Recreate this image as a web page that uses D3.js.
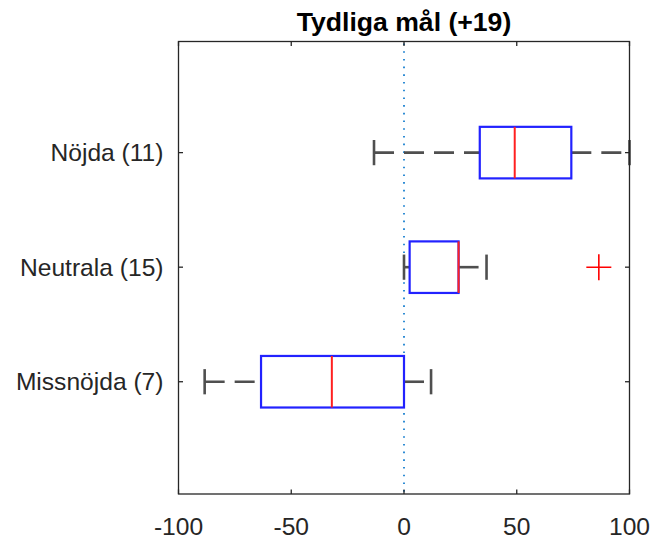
<!DOCTYPE html>
<html><head><meta charset="utf-8">
<script src="https://cdn.jsdelivr.net/npm/d3@7"></script>
<style>body{margin:0;background:#fff}svg{display:block}</style>
</head><body>
<svg id="chart" width="656" height="540"></svg>
<script>
const title = "Tydliga mål (+19)";
const categories = ["Missnöjda (7)", "Neutrala (15)", "Nöjda (11)"];
const positions = [1, 2, 3];
const lowerWhisker = [-88.4, 0, -13.3];
const q1 = [-63.4, 2.5, 33.6];
const median = [-32, 24.2, 49.1];
const q3 = [0, 24.2, 74.2];
const upperWhisker = [12, 36.6, 100];
const outliers = [[], [86.4], []];
const xTicks = [-100, -50, 0, 50, 100];

const svg = d3.select("#chart");
const L = 178.5, R = 629.5, T = 41.5, B = 494;
const x = d3.scaleLinear().domain([-100, 100]).range([L, R]);
const y = d3.scaleLinear().domain([0.02, 3.97]).range([B, T]);
const boxHalf = 0.225, capHalf = 0.11;
const font = "'Liberation Sans', Arial, Helvetica, sans-serif";
const axisColor = "#262626";

// zero reference line
svg.append("line")
  .attr("x1", x(0)).attr("x2", x(0)).attr("y1", T + 2).attr("y2", B)
  .attr("stroke", "#1a80d0").attr("stroke-width", 1.8)
  .attr("stroke-dasharray", "1.6,6.1").attr("stroke-linecap", "butt");

const data = categories.map((c, i) => ({
  c, p: positions[i], lw: lowerWhisker[i], q1: q1[i], med: median[i],
  q3: q3[i], uw: upperWhisker[i], out: outliers[i]
}));

const g = svg.append("g");
const wColor = "#4f4f4f";
data.forEach(d => {
  g.append("line").attr("x1", x(d.lw)).attr("x2", x(d.q1))
    .attr("y1", y(d.p)).attr("y2", y(d.p))
    .attr("stroke", wColor).attr("stroke-width", 2.6).attr("stroke-dasharray", "20,10");
  g.append("line").attr("x1", x(d.q3)).attr("x2", x(d.uw))
    .attr("y1", y(d.p)).attr("y2", y(d.p))
    .attr("stroke", wColor).attr("stroke-width", 2.6).attr("stroke-dasharray", "20,10");
  [d.lw, d.uw].forEach(v => {
    g.append("line").attr("x1", x(v)).attr("x2", x(v))
      .attr("y1", y(d.p - capHalf)).attr("y2", y(d.p + capHalf))
      .attr("stroke", wColor).attr("stroke-width", 2.6);
  });
  g.append("rect").attr("x", x(d.q1)).attr("y", y(d.p + boxHalf))
    .attr("width", x(d.q3) - x(d.q1)).attr("height", y(d.p - boxHalf) - y(d.p + boxHalf))
    .attr("fill", "none").attr("stroke", "#2222ff").attr("stroke-width", 2.2);
  g.append("line").attr("x1", x(d.med)).attr("x2", x(d.med))
    .attr("y1", y(d.p + boxHalf)).attr("y2", y(d.p - boxHalf))
    .attr("stroke", "#ff2020").attr("stroke-width", 2);
  d.out.forEach(v => {
    g.append("path")
      .attr("d", `M${x(v) - 12.5},${y(d.p)}H${x(v) + 12.5}M${x(v)},${y(d.p) - 13}V${y(d.p) + 13}`)
      .attr("stroke", "#ff0000").attr("stroke-width", 1.6).attr("fill", "none");
  });
});

svg.append("rect").attr("x", L).attr("y", T).attr("width", R - L).attr("height", B - T)
  .attr("fill", "none").attr("stroke", axisColor).attr("stroke-width", 1.3);

xTicks.forEach(t => {
  svg.append("line").attr("x1", x(t)).attr("x2", x(t)).attr("y1", B).attr("y2", B - 4.5)
    .attr("stroke", axisColor).attr("stroke-width", 1.3);
  svg.append("line").attr("x1", x(t)).attr("x2", x(t)).attr("y1", T).attr("y2", T + 4.5)
    .attr("stroke", axisColor).attr("stroke-width", 1.3);
  svg.append("text").attr("x", x(t)).attr("y", B + 41)
    .attr("text-anchor", "middle").attr("font-family", font).attr("font-size", 24.6)
    .attr("fill", axisColor).text(t);
});
data.forEach(d => {
  svg.append("line").attr("x1", L).attr("x2", L + 4.5).attr("y1", y(d.p)).attr("y2", y(d.p))
    .attr("stroke", axisColor).attr("stroke-width", 1.3);
  svg.append("line").attr("x1", R).attr("x2", R - 4.5).attr("y1", y(d.p)).attr("y2", y(d.p))
    .attr("stroke", axisColor).attr("stroke-width", 1.3);
  svg.append("text").attr("x", L - 15).attr("y", y(d.p) + 8.7)
    .attr("text-anchor", "end").attr("font-family", font).attr("font-size", 24.6)
    .attr("fill", axisColor).text(d.c);
});

svg.append("text").attr("x", (L + R) / 2).attr("y", 31)
  .attr("text-anchor", "middle").attr("font-family", font).attr("font-size", 26.6)
  .attr("font-weight", "bold").attr("fill", "#000").text(title);
</script>
</body></html>
